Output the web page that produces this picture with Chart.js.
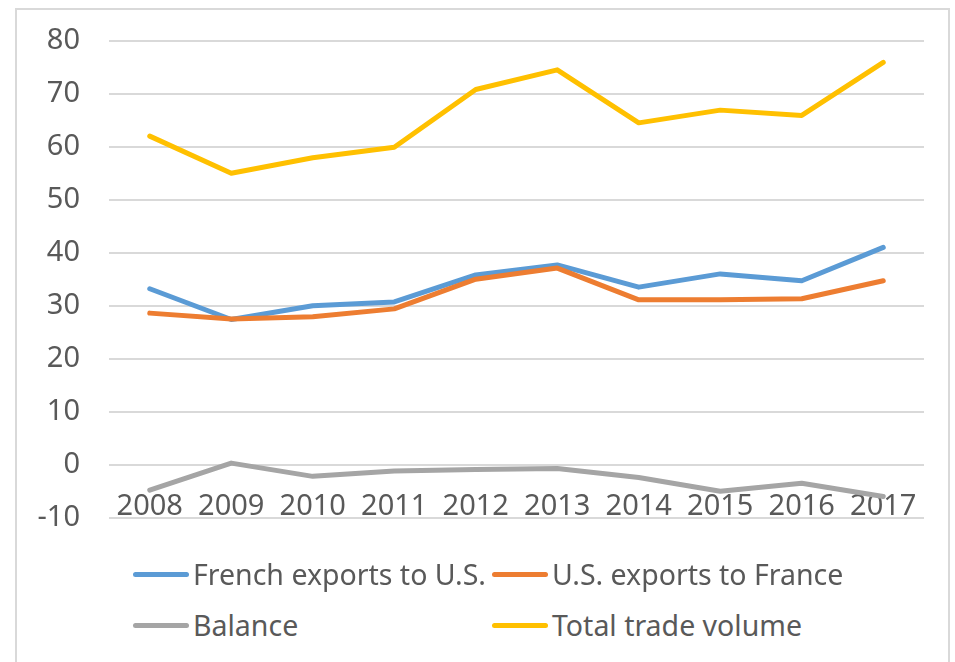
<!DOCTYPE html>
<html>
<head>
<meta charset="utf-8">
<script src="https://cdn.jsdelivr.net/npm/chart.js@4"></script>
<style>
  body { margin: 0; background: #fff; }
  #wrap { position: relative; width: 955px; height: 662px; overflow: hidden; background: #fff; }
  #frame { position: absolute; left: 15px; top: 8px; width: 935px; height: 700px; border: 2px solid #d9d9d9; box-sizing: border-box; }
  #box { position: absolute; left: 0; top: 0; width: 955px; height: 560px; }
  .lg { position: absolute; font-family: "Noto Sans", sans-serif; font-size: 28.5px; color: #595959; white-space: nowrap; line-height: 1; }
  .lg i { position: absolute; left: -60px; top: 50%; width: 56px; height: 5px; margin-top: -2.5px; border-radius: 3px; }
</style>
</head>
<body>
<div id="wrap">
  <div id="frame"></div>
  <div id="box"><canvas id="trade-chart"></canvas></div>
  <div id="legend"></div>
</div>
<script>
const years = ['2008', '2009', '2010', '2011', '2012', '2013', '2014', '2015', '2016', '2017'];
const frenchExports = [33.2, 27.4, 30.0, 30.7, 35.8, 37.7, 33.5, 36.0, 34.7, 41.0];
const usExports = [28.6, 27.5, 27.9, 29.4, 35.0, 37.1, 31.1, 31.1, 31.3, 34.7];
const balance = [-4.8, 0.3, -2.2, -1.2, -0.9, -0.7, -2.4, -5.0, -3.5, -6.0];
const totalVolume = [62.0, 55.0, 57.9, 59.9, 70.8, 74.5, 64.5, 66.9, 65.9, 75.9];

const seriesNames = ['French exports to U.S.', 'U.S. exports to France', 'Balance', 'Total trade volume'];
const seriesColors = ['#5B9BD5', '#ED7D31', '#A5A5A5', '#FFC000'];
const seriesData = [frenchExports, usExports, balance, totalVolume];

const tickFont = { family: '"Noto Sans", sans-serif', size: 29 };

new Chart(document.getElementById('trade-chart'), {
  type: 'line',
  data: {
    labels: years,
    datasets: seriesData.map((data, i) => ({
      label: seriesNames[i],
      data,
      borderColor: seriesColors[i],
      backgroundColor: seriesColors[i],
      borderWidth: 5,
      borderCapStyle: 'round',
      borderJoinStyle: 'round',
      pointRadius: 0,
      tension: 0,
      order: 4 - i
    }))
  },
  options: {
    responsive: true,
    maintainAspectRatio: false,
    animation: false,
    layout: { padding: { left: 0, right: 31, top: 40.7, bottom: 42.3 } },
    plugins: {
      legend: { display: false },
      tooltip: { enabled: false }
    },
    scales: {
      x: {
        position: { y: 0 },
        offset: true,
        afterFit: (scale) => { scale.height = 0; },
        grid: { display: false },
        border: { display: false },
        ticks: { color: '#595959', font: tickFont, padding: 17, maxRotation: 0, autoSkip: false }
      },
      y: {
        min: -10,
        max: 80,
        afterFit: (scale) => {
          scale.width = 109;
          scale.paddingTop = 0;
          scale.paddingBottom = 0;
        },
        grid: { color: '#d9d9d9', lineWidth: 2, drawTicks: false },
        border: { display: false },
        ticks: { stepSize: 10, color: '#595959', font: tickFont, padding: 29 }
      }
    }
  }
});

// legend laid out in two columns like the original
const legend = document.getElementById('legend');
const legendX = [193, 552];
const legendY = [575, 626];
seriesNames.forEach((name, i) => {
  const item = document.createElement('div');
  item.className = 'lg';
  item.style.left = legendX[i % 2] + 'px';
  item.style.top = (legendY[Math.floor(i / 2)] - 15) + 'px';
  item.innerHTML = '<i style="background:' + seriesColors[i] + '"></i>' + name;
  legend.appendChild(item);
});
</script>
</body>
</html>
